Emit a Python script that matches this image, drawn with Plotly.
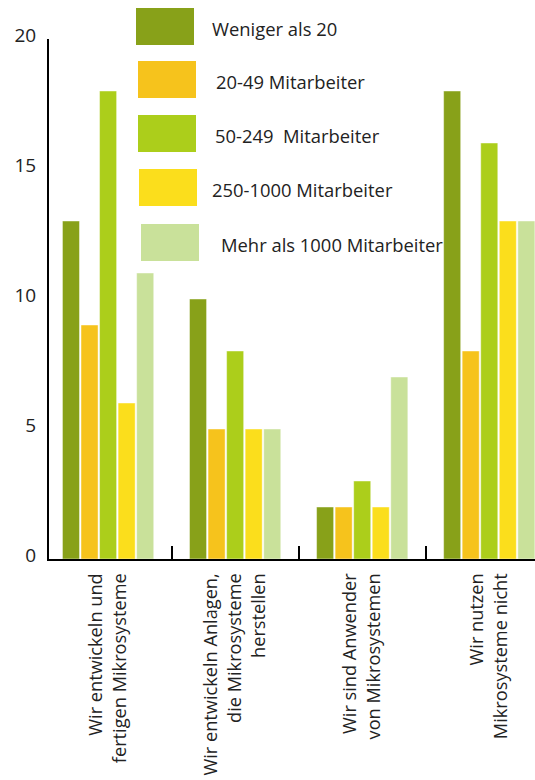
import plotly.graph_objects as go

# Survey answers by company size (number of companies)
categories = [
    "Wir entwickeln und<br>fertigen Mikrosysteme",
    "Wir entwickeln Anlagen,<br>die Mikrosysteme<br>herstellen",
    "Wir sind Anwender<br>von Mikrosystemen",
    "Wir nutzen<br>Mikrosysteme nicht",
]
series_names = [
    "Weniger als 20",
    "20-49 Mitarbeiter",
    "50-249  Mitarbeiter",
    "250-1000 Mitarbeiter",
    "Mehr als 1000 Mitarbeiter",
]
weniger_als_20 = [13, 10, 2, 18]
ma_20_49 = [9, 5, 2, 8]
ma_50_249 = [18, 8, 3, 16]
ma_250_1000 = [6, 5, 2, 13]
mehr_als_1000 = [11, 5, 7, 13]
series_values = [weniger_als_20, ma_20_49, ma_50_249, ma_250_1000, mehr_als_1000]
colors = ["#88A119", "#F6C31C", "#ACCE1B", "#FBDE1C", "#C9E19A"]
y_ticks = [0, 5, 10, 15, 20]

FONT = "Open Sans"
TEXT = "#222222"
W, H = 535, 780
ML, MR, MT, MB = 49, 0, 39, 221
PW, PH = W - ML - MR, H - MT - MB

fig = go.Figure()
for name, vals, col in zip(series_names, series_values, colors):
    fig.add_trace(go.Bar(
        x=categories, y=vals, name=name,
        marker=dict(color=col, line=dict(color="rgba(255,255,255,0.45)", width=1)),
        showlegend=False,
    ))


def px_x(px):
    return (px - ML) / PW


def px_y(py):
    return (H - MB - py) / PH


# Large colour swatches with labels at the top of the chart
swatch_left = [136, 138, 138, 139, 141]
swatch_top = [8, 61, 115, 169, 224]
text_left = [210, 214, 213, 210, 219]
shapes, annotations = [], []
for name, col, sx, sy, tx in zip(series_names, colors, swatch_left, swatch_top, text_left):
    shapes.append(dict(
        type="rect", xref="paper", yref="paper",
        x0=px_x(sx), x1=px_x(sx + 58), y0=px_y(sy + 37), y1=px_y(sy),
        fillcolor=col, line=dict(width=0), layer="above",
    ))
    annotations.append(dict(
        xref="paper", yref="paper", x=px_x(tx), y=px_y(sy + 20),
        xanchor="left", yanchor="middle", showarrow=False,
        text=name, font=dict(family=FONT, size=18.4, color=TEXT),
    ))

fig.update_layout(
    width=W, height=H,
    margin=dict(l=ML, r=MR, t=MT, b=MB, pad=0, autoexpand=False),
    paper_bgcolor="white", plot_bgcolor="white",
    barmode="group", bargap=0.27, bargroupgap=0.08,
    font=dict(family=FONT, color=TEXT),
    shapes=shapes, annotations=annotations,
    showlegend=False,
    xaxis=dict(
        range=[-0.465, 3.36], showgrid=False, zeroline=False, automargin=False,
        showline=True, linecolor="black", linewidth=2,
        ticks="inside", tickson="boundaries", ticklen=13, tickwidth=2, tickcolor="black",
        tickangle=-90, tickfont=dict(family=FONT, size=18.2, color=TEXT),
        ticklabelstandoff=5,
    ),
    yaxis=dict(
        range=[0, 20], tickvals=y_ticks, showgrid=False, zeroline=False, automargin=False,
        showline=True, linecolor="black", linewidth=2, ticks="",
        tickfont=dict(family=FONT, size=19, color=TEXT),
        ticklabelstandoff=7, ticklabelshift=-4,
    ),
)

fig.write_html("out.html")
